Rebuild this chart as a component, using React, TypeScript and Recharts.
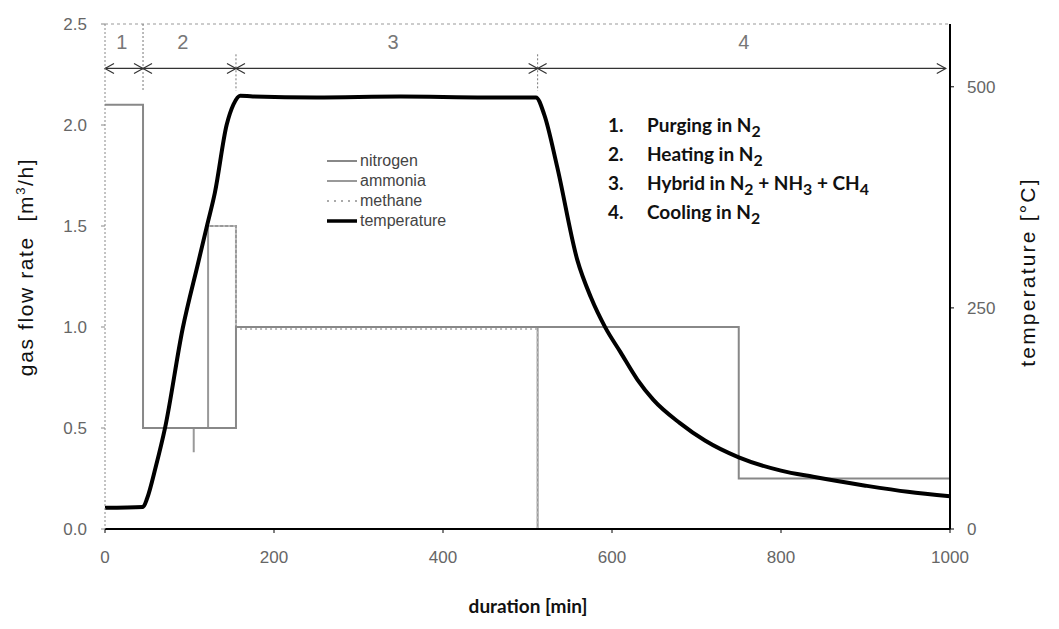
import {
  LineChart,
  Line,
  XAxis,
  YAxis,
  Legend,
  ReferenceLine,
  ReferenceDot,
} from "recharts";

// axis ticks
const xTicks = [0, 200, 400, 600, 800, 1000];
const flowTicks = [0, 0.5, 1, 1.5, 2, 2.5];
const tempTicks = [0, 250, 500];

// gas flows [m3/h] vs time [min]
const nitrogenTime = [0, 45, 45, 155, 155, 750, 750, 1000];
const nitrogenFlow = [2.1, 2.1, 0.5, 0.5, 1.0, 1.0, 0.25, 0.25];

const ammoniaTime = [105, 105, 122, 122, 155, 155, 512, 512, 1000];
const ammoniaFlow = [0.38, 0.5, 0.5, 1.5, 1.5, 1.0, 1.0, 0, 0];

const methaneTime = [122, 155, 155, 512, 512];
const methaneFlow = [1.5, 1.5, 0.99, 0.99, 0];

// temperature [°C]
const tempTime = [
  0, 45, 50, 60, 71, 92, 110, 121, 130, 144, 152, 160, 175, 250, 350, 450, 510,
  520, 535, 559, 575, 592, 610, 630, 649, 680, 710, 750, 800, 838, 900, 950, 1000,
];
const tempValue = [
  24, 25, 35, 70, 114, 227, 300, 344, 380, 457, 480, 490, 489, 488, 489, 488, 488,
  468, 410, 304, 262, 228, 200, 169, 146, 120, 100, 81, 66, 59, 49, 42, 37,
];

// process phases
const phaseBounds = [0, 45, 155, 512, 995];
const phaseNames = ["1", "2", "3", "4"];
const phaseLabelAt = [20, 92, 341, 756];

const seriesNames = ["nitrogen", "ammonia", "methane", "temperature"];

const toPoints = (ts: number[], vs: number[]) => ts.map((t, i) => ({ t, v: vs[i] }));

const nitrogenData = toPoints(nitrogenTime, nitrogenFlow);
const ammoniaData = toPoints(ammoniaTime, ammoniaFlow);
const methaneData = toPoints(methaneTime, methaneFlow);
const tempData = toPoints(tempTime, tempValue);

const ARROW_Y = 2.28;
const SANS = "'Liberation Sans', Arial, sans-serif";
const TICK_FONT = { fontFamily: SANS, fontSize: 17, fill: "#666" };

const PhaseArrow = (props: any) => {
  const { x1, y1, x2, y2 } = props;
  const h = 9;
  const w = 5;
  return (
    <g stroke="#333" strokeWidth={1.2} fill="none">
      <line x1={x1} y1={y1} x2={x2} y2={y2} />
      <polyline points={`${x1 + h},${y1 - w} ${x1},${y1} ${x1 + h},${y1 + w}`} />
      <polyline points={`${x2 - h},${y2 - w} ${x2},${y2} ${x2 - h},${y2 + w}`} />
    </g>
  );
};

const PhaseNumber = (text: string) => (props: any) => (
  <text
    x={props.cx}
    y={props.cy}
    textAnchor="middle"
    dominantBaseline="middle"
    style={{ fontFamily: SANS, fontSize: 20, fill: "#777" }}
  >
    {text}
  </text>
);

const legendStyles = [
  { stroke: "#888", width: 2, dash: undefined },
  { stroke: "#999", width: 2, dash: undefined },
  { stroke: "#aaa", width: 2, dash: "2 5" },
  { stroke: "#000", width: 3.5, dash: undefined },
];

const renderLegend = () => (
  <div style={{ fontFamily: SANS, fontSize: 16, color: "#444" }}>
    {seriesNames.map((name, i) => (
      <div key={name} style={{ display: "flex", alignItems: "center", height: 20 }}>
        <svg width={34} height={20}>
          <line
            x1={2}
            y1={10}
            x2={32}
            y2={10}
            stroke={legendStyles[i].stroke}
            strokeWidth={legendStyles[i].width}
            strokeDasharray={legendStyles[i].dash}
          />
        </svg>
        <span style={{ marginLeft: 1 }}>{name}</span>
      </div>
    ))}
  </div>
);

const notes = [
  ["1.", <>Purging in N<sub>2</sub></>],
  ["2.", <>Heating in N<sub>2</sub></>],
  ["3.", <>Hybrid in N<sub>2</sub> + NH<sub>3</sub> + CH<sub>4</sub></>],
  ["4.", <>Cooling in N<sub>2</sub></>],
];

const noteFont = { fontFamily: "Lato, 'Open Sans', sans-serif", fontSize: 19, fontWeight: 700, color: "#111" };

const axisTitle = {
  position: "absolute" as const,
  transform: "translate(-50%, -50%) rotate(-90deg)",
  whiteSpace: "nowrap" as const,
  fontFamily: SANS,
  fontSize: 21,
  letterSpacing: 1.6,
  color: "#111",
};

export default function App() {
  return (
    <div style={{ position: "relative", width: 1043, height: 613, background: "#fff" }}>
      <LineChart width={1043} height={613} margin={{ top: 16, right: 41, bottom: 52, left: 37 }}>
        <XAxis
          dataKey="t"
          type="number"
          domain={[0, 1000]}
          ticks={xTicks}
          tick={TICK_FONT}
          tickSize={4}
          tickMargin={18}
          axisLine={{ stroke: "#000", strokeWidth: 2 }}
          tickLine={{ stroke: "#000" }}
          height={40}
        />
        <YAxis
          yAxisId="left"
          domain={[0, 2.5]}
          ticks={flowTicks}
          tickFormatter={(v: number) => v.toFixed(1)}
          tick={TICK_FONT}
          tickSize={4}
          tickMargin={14}
          axisLine={{ stroke: "#888", strokeDasharray: "2 2" }}
          tickLine={{ stroke: "#888" }}
          width={60}
        />
        <YAxis
          yAxisId="right"
          orientation="right"
          domain={[0, 571]}
          ticks={tempTicks}
          tick={{ ...TICK_FONT, textAnchor: "start" }}
          tickSize={4}
          tickMargin={13}
          axisLine={{ stroke: "#000", strokeWidth: 2 }}
          tickLine={{ stroke: "#000" }}
          width={60}
        />
        <ReferenceLine yAxisId="left" y={2.5} stroke="#999" strokeDasharray="3 3" />

        {phaseBounds.slice(1, 4).map((b, i) => (
          <ReferenceLine
            key={"b" + b}
            yAxisId="left"
            segment={[
              { x: b, y: i === 0 ? 2.5 : 2.35 },
              { x: b, y: 2.17 },
            ]}
            stroke="#777"
            strokeDasharray="2 2"
          />
        ))}
        {phaseNames.map((n, i) => (
          <ReferenceLine
            key={"a" + n}
            yAxisId="left"
            segment={[
              { x: phaseBounds[i], y: ARROW_Y },
              { x: phaseBounds[i + 1], y: ARROW_Y },
            ]}
            shape={PhaseArrow}
          />
        ))}
        {phaseNames.map((n, i) => (
          <ReferenceDot
            key={"n" + n}
            yAxisId="left"
            x={phaseLabelAt[i]}
            y={2.4}
            r={0}
            shape={PhaseNumber(n)}
          />
        ))}

        <Line
          yAxisId="left"
          data={ammoniaData}
          dataKey="v"
          name={seriesNames[1]}
          type="linear"
          stroke="#999"
          strokeWidth={2}
          dot={false}
          isAnimationActive={false}
        />
        <Line
          yAxisId="left"
          data={methaneData}
          dataKey="v"
          name={seriesNames[2]}
          type="linear"
          stroke="#bbb"
          strokeWidth={2}
          strokeDasharray="2 3"
          dot={false}
          isAnimationActive={false}
        />
        <Line
          yAxisId="left"
          data={nitrogenData}
          dataKey="v"
          name={seriesNames[0]}
          type="linear"
          stroke="#888"
          strokeWidth={2}
          dot={false}
          isAnimationActive={false}
        />
        <Line
          yAxisId="right"
          data={tempData}
          dataKey="v"
          name={seriesNames[3]}
          type="monotone"
          stroke="#000"
          strokeWidth={4}
          dot={false}
          isAnimationActive={false}
        />
        <Legend
          layout="vertical"
          align="center"
          verticalAlign="middle"
          content={renderLegend}
          wrapperStyle={{ left: 317, top: 143, width: 170 }}
        />
      </LineChart>

      {notes.map(([num, txt], i) => (
        <div
          key={i}
          style={{ ...noteFont, position: "absolute", top: 106 + i * 29, left: 600, lineHeight: "22px", whiteSpace: "nowrap" }}
        >
          <span style={{ display: "inline-block", width: 39 }}>{num}</span>
          {txt}
        </div>
      ))}

      <div style={{ ...axisTitle, left: 17, top: 259 }}>
        gas flow rate&nbsp;&nbsp;[m<sup style={{ fontSize: 13 }}>3</sup>/h]
      </div>
      <div style={{ ...axisTitle, left: 1020, top: 264, letterSpacing: 2.2 }}>temperature [°C]</div>
      <div
        style={{
          position: "absolute",
          left: 520,
          top: 597,
          transform: "translate(-50%, -50%)",
          whiteSpace: "nowrap",
          fontFamily: "Lato, 'Open Sans', sans-serif",
          fontSize: 19,
          fontWeight: 700,
          color: "#111",
        }}
      >
        duration [min]
      </div>
    </div>
  );
}
